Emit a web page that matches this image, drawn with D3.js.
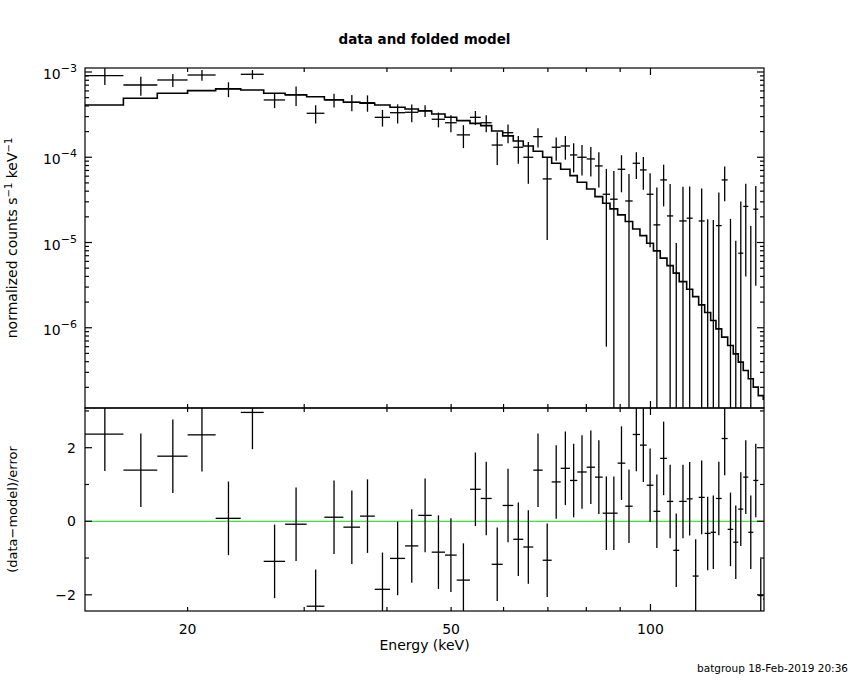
<!DOCTYPE html>
<html>
<head>
<meta charset="utf-8">
<script src="https://cdn.jsdelivr.net/npm/d3@7"></script>
<style>
body { margin: 0; background: #fff; }
text { font-family: "DejaVu Sans", sans-serif; fill: #000; }
</style>
</head>
<body>
<script>
// energy bin edges (keV)
var binEdges = [14.0, 16.0, 18.0, 20.0, 22.05, 24.06, 26.06, 28.07, 30.26, 32.18, 34.38, 36.43,
    38.34, 40.43, 42.60, 44.61, 46.74, 48.95, 50.98, 53.39, 55.42, 57.57, 59.82, 62.06, 64.26,
    66.53, 68.74, 70.93, 73.18, 75.59, 77.53, 80.10, 82.45, 84.69, 86.87, 89.22, 91.61, 94.00,
    96.41, 98.69, 101.04, 103.46, 105.90, 108.24, 110.52, 113.41, 115.80, 118.24, 120.74, 123.28,
    125.57, 128.09, 130.79, 133.36, 135.70, 138.08, 140.50, 142.97, 145.47, 148.02, 150.5];

// normalized counts s^-1 keV^-1
var rate = [9.05e-4, 7.04e-4, 8.06e-4, 9.22e-4, 6.32e-4, 9.40e-4, 4.70e-4, 5.38e-4, 3.28e-4, 4.70e-4,
    4.41e-4, 4.37e-4, 2.94e-4, 3.33e-4, 3.37e-4, 3.52e-4, 2.79e-4, 2.54e-4, 1.83e-4, 2.94e-4,
    2.54e-4, 1.39e-4, 1.94e-4, 1.31e-4, 1.00e-4, 1.744e-4, 5.57e-5, 1.31e-4, 1.356e-4, 1.064e-4,
    1.00e-4, 9.55e-5, 7.91e-5, 3.68e-5, 3.22e-5, 7.23e-5, 3.07e-5, 8.5e-5, 7.1e-5, 3.68e-5,
    1.61e-5, 5.42e-5, 2.05e-5, -1.61e-5, 1.79e-5, 1.93e-5, -3.64e-5, 1.79e-5, -7.0e-6, -6.1e-6,
    1.578e-5, 5.42e-5, -4.5e-6, -1.28e-5, 7.49e-6, 2.65e-5, -6.4e-6, 2.46e-5, -4.3e-5, -4.4e-5];

var rateErr = [2.0e-4, 1.77e-4, 1.41e-4, 1.33e-4, 1.25e-4, 1.15e-4, 9.3e-5, 1.4e-4, 7.9e-5, 8.7e-5,
    9.5e-5, 9.5e-5, 6.5e-5, 8.4e-5, 8.0e-5, 5.6e-5, 5.5e-5, 5.7e-5, 5.5e-5, 5.5e-5,
    5.7e-5, 5.8e-5, 4.8e-5, 4.7e-5, 5.1e-5, 4.4e-5, 4.5e-5, 4.0e-5, 4.2e-5, 4.0e-5,
    3.9e-5, 3.6e-5, 3.5e-5, 3.62e-5, 3.7e-5, 3.35e-5, 3.3e-5, 2.95e-5, 2.95e-5, 2.8e-5,
    2.8e-5, 2.77e-5, 2.8e-5, 2.6e-5, 2.73e-5, 2.6e-5, 2.6e-5, 2.5e-5, 2.57e-5, 2.45e-5,
    2.27e-5, 2.37e-5, 2.34e-5, 2.33e-5, 2.27e-5, 2.25e-5, 2.2e-5, 2.15e-5, 2.1e-5, 2.1e-5];

// folded model
var model = [4.10e-4, 4.92e-4, 5.63e-4, 6.04e-4, 6.37e-4, 6.15e-4, 5.63e-4, 5.42e-4, 5.13e-4, 4.73e-4,
    4.41e-4, 4.30e-4, 4.10e-4, 3.86e-4, 3.68e-4, 3.49e-4, 3.22e-4, 2.94e-4, 2.69e-4, 2.50e-4,
    2.35e-4, 2.03e-4, 1.78e-4, 1.55e-4, 1.356e-4, 1.176e-4, 1.0e-4, 8.5e-5, 7.23e-5, 6.09e-5,
    5.09e-5, 4.25e-5, 3.45e-5, 2.89e-5, 2.48e-5, 2.11e-5, 1.76e-5, 1.44e-5, 1.205e-5, 9.8e-6,
    7.97e-6, 6.55e-6, 5.36e-6, 4.37e-6, 3.48e-6, 2.835e-6, 2.32e-6, 1.855e-6, 1.507e-6, 1.215e-6,
    9.7e-7, 7.76e-7, 6.19e-7, 4.94e-7, 3.95e-7, 3.15e-7, 2.52e-7, 2.01e-7, 1.6e-7, 1.45e-7];

// (data-model)/error
var resid = [2.37, 1.39, 1.77, 2.35, 0.08, 2.96, -1.09, -0.08, -2.31, 0.11,
    -0.16, 0.14, -1.85, -1.01, -0.67, 0.16, -0.84, -0.92, -1.60, 0.87,
    0.62, -1.17, 0.43, -0.49, -0.70, 1.39, -1.06, 1.07, 1.44, 1.11,
    1.34, 1.47, 1.20, 0.22, 0.22, 1.58, 0.41, 2.36, 2.07, 0.98,
    0.27, 1.71, 0.54, -0.79, 0.54, 0.61, -1.49, 0.65, -0.33, -0.30,
    0.62, 2.25, -0.22, -0.57, 0.33, 1.20, -0.30, 1.11, -2.02, -2.12];

var xTickLabels = [20, 50, 100];
var topTickExps = [-6, -5, -4, -3];
var resTickLabels = [-2, 0, 2];

var W = 850, H = 680;
var L = 85, R = 764, T = 68, MID = 408, B = 611;
var MINOR = 4, MAJOR = 7;

var svg = d3.select("body").append("svg")
    .attr("width", W)
    .attr("height", H);

var x = d3.scaleLog().domain([14.0, 148.4]).range([L, R]);
var yTop = d3.scaleLog().domain([1.145e-7, 1.114e-3]).range([MID, T]);
var yRes = d3.scaleLinear().domain([-2.44, 3.08]).range([B, MID]);
var yMin = yTop.domain()[0];

var defs = svg.append("defs");
defs.append("clipPath").attr("id", "clipTop").append("rect")
    .attr("x", L).attr("y", T).attr("width", R - L).attr("height", MID - T);
defs.append("clipPath").attr("id", "clipRes").append("rect")
    .attr("x", L).attr("y", MID).attr("width", R - L).attr("height", B - MID);

var bins = d3.range(rate.length).map(function (i) {
    return {
        lo: binEdges[i], hi: binEdges[i + 1], c: (binEdges[i] + binEdges[i + 1]) / 2,
        d: rate[i], e: rateErr[i], m: model[i], r: resid[i]
    };
});

// ---- top panel: data and folded model
var gTop = svg.append("g").attr("clip-path", "url(#clipTop)")
    .attr("stroke", "#000").attr("fill", "none");

bins.forEach(function (b) {
    if (b.d > 0) {
        gTop.append("line")
            .attr("x1", x(b.lo)).attr("x2", x(b.hi))
            .attr("y1", yTop(b.d)).attr("y2", yTop(b.d))
            .attr("stroke-width", 1.3);
    }
    if (b.d + b.e > yMin) {
        var lo = b.d - b.e > 0 ? b.d - b.e : yMin / 2;
        gTop.append("line")
            .attr("x1", x(b.c)).attr("x2", x(b.c))
            .attr("y1", yTop(lo)).attr("y2", yTop(b.d + b.e))
            .attr("stroke-width", 1.3);
    }
});

var stepPts = bins.map(function (b) { return [b.lo, b.m]; });
stepPts.push([bins[bins.length - 1].hi, bins[bins.length - 1].m]);
gTop.append("path")
    .attr("d", d3.line()
        .x(function (p) { return x(p[0]); })
        .y(function (p) { return yTop(p[1]); })
        .curve(d3.curveStepAfter)(stepPts))
    .attr("stroke-width", 1.6);

// ---- bottom panel: residuals
var gRes = svg.append("g").attr("clip-path", "url(#clipRes)")
    .attr("stroke", "#000").attr("fill", "none");

gRes.append("line")
    .attr("x1", L).attr("x2", R)
    .attr("y1", yRes(0)).attr("y2", yRes(0))
    .attr("stroke", "#00dd00").attr("stroke-width", 1);

bins.forEach(function (b) {
    gRes.append("line")
        .attr("x1", x(b.lo)).attr("x2", x(b.hi))
        .attr("y1", yRes(b.r)).attr("y2", yRes(b.r))
        .attr("stroke-width", 1.3);
    gRes.append("line")
        .attr("x1", x(b.c)).attr("x2", x(b.c))
        .attr("y1", yRes(b.r - 1)).attr("y2", yRes(b.r + 1))
        .attr("stroke-width", 1.3);
});

// ---- frames and ticks
var gAx = svg.append("g").attr("stroke", "#000").attr("stroke-width", 1.2).attr("fill", "none");
gAx.append("rect").attr("x", L).attr("y", T).attr("width", R - L).attr("height", MID - T);
gAx.append("rect").attr("x", L).attr("y", MID).attr("width", R - L).attr("height", B - MID);

function isDecade(v) { return Math.abs(Math.log10(v) - Math.round(Math.log10(v))) < 1e-6; }

// x ticks on all four horizontal edges
x.ticks().forEach(function (v) {
    var len = isDecade(v) ? MAJOR : MINOR;
    var px = x(v);
    [T, MID].forEach(function (yy) {
        gAx.append("line").attr("x1", px).attr("x2", px).attr("y1", yy).attr("y2", yy + len);
    });
    [MID, B].forEach(function (yy) {
        gAx.append("line").attr("x1", px).attr("x2", px).attr("y1", yy).attr("y2", yy - len);
    });
});

// top y ticks
yTop.ticks().forEach(function (v) {
    var len = isDecade(v) ? MAJOR : MINOR;
    var py = yTop(v);
    gAx.append("line").attr("x1", L).attr("x2", L + len).attr("y1", py).attr("y2", py);
    gAx.append("line").attr("x1", R).attr("x2", R - len).attr("y1", py).attr("y2", py);
});

// residual y ticks
yRes.ticks(5).forEach(function (v) {
    var len = (v % 2 === 0) ? MAJOR : MINOR;
    var py = yRes(v);
    gAx.append("line").attr("x1", L).attr("x2", L + len).attr("y1", py).attr("y2", py);
    gAx.append("line").attr("x1", R).attr("x2", R - len).attr("y1", py).attr("y2", py);
});

// ---- text
svg.append("text")
    .attr("x", (L + R) / 2).attr("y", 44)
    .attr("text-anchor", "middle").attr("font-size", 13.5).attr("font-weight", "bold")
    .text("data and folded model");

xTickLabels.forEach(function (v) {
    svg.append("text")
        .attr("x", x(v)).attr("y", 634)
        .attr("text-anchor", "middle").attr("font-size", 14)
        .text(v);
});

svg.append("text")
    .attr("x", (L + R) / 2).attr("y", 650)
    .attr("text-anchor", "middle").attr("font-size", 14)
    .text("Energy (keV)");

topTickExps.forEach(function (ex) {
    var t = svg.append("text")
        .attr("x", 77).attr("y", yTop(Math.pow(10, ex)) + 7)
        .attr("text-anchor", "end").attr("font-size", 14);
    t.append("tspan").text("10");
    t.append("tspan").attr("dy", -7).attr("font-size", 11).text("\u2212" + Math.abs(ex));
});

resTickLabels.forEach(function (v) {
    svg.append("text")
        .attr("x", 76).attr("y", yRes(v) + 5)
        .attr("text-anchor", "end").attr("font-size", 14)
        .text(v < 0 ? "\u2212" + Math.abs(v) : v);
});

var yl = svg.append("text")
    .attr("transform", "translate(17," + (T + MID) / 2 + ") rotate(-90)")
    .attr("text-anchor", "middle").attr("font-size", 14);
yl.append("tspan").text("normalized counts s");
yl.append("tspan").attr("dy", -5).attr("font-size", 10).text("\u22121");
yl.append("tspan").attr("dy", 5).text(" keV");
yl.append("tspan").attr("dy", -5).attr("font-size", 10).text("\u22121");

svg.append("text")
    .attr("transform", "translate(17," + (MID + B) / 2 + ") rotate(-90)")
    .attr("text-anchor", "middle").attr("font-size", 13)
    .text("(data\u2212model)/error");

svg.append("text")
    .attr("x", 848).attr("y", 672)
    .attr("text-anchor", "end").attr("font-size", 10.5)
    .text("batgroup 18-Feb-2019 20:36");
</script>
</body>
</html>
